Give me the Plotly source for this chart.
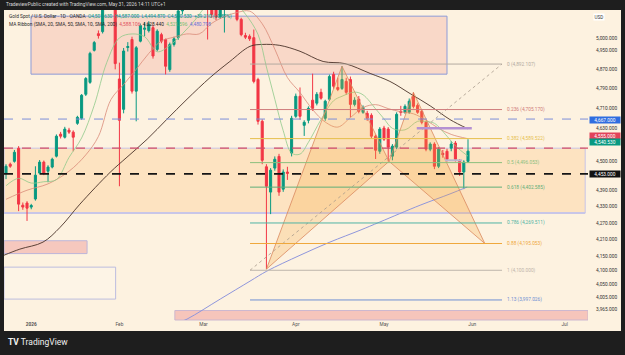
import math
import plotly.graph_objects as go

FONT = "Roboto"
W, H = 625, 355
PL, PR, PT, PB = 4, 588, 10, 320   # plot area in pixels

# ---------------- candles (bar index 0 = Dec 23 2025 ... 110 = May 29 2026)
opens = [4456, 4490, 4501, 4552, 4335, 4343, 4328, 4358, 4456, 4498,
         4463, 4479, 4521, 4607, 4595, 4623, 4615, 4650, 4670, 4767,
         4816, 4950, 5021, 5030, 5180, 5400, 5370, 4830, 4706, 4962,
         4996, 4780, 4989, 5040, 5034, 5047, 4954, 5017, 4996, 4869,
         4975, 5005, 5120, 5180, 5160, 5210, 5250, 5200, 5230, 5180,
         5150, 5095, 5140, 5150, 5170, 5140, 5083, 5013, 5010, 5004,
         4828, 4658, 4480, 4384, 4475, 4520, 4395, 4460, 4533, 4678,
         4759, 4642, 4662, 4743, 4731, 4775, 4670, 4747, 4849, 4795,
         4791, 4820, 4828, 4726, 4747, 4694, 4690, 4682, 4599, 4540,
         4631, 4627, 4521, 4556, 4698, 4694, 4694, 4759, 4722, 4698,
         4654, 4548, 4568, 4482, 4532, 4540, 4552, 4572, 4501, 4460,
         4501]
highs = [4490, 4496, 4545, 4560, 4345, 4350, 4340, 4482, 4506, 4504,
         4486, 4515, 4606, 4616, 4636, 4632, 4622, 4680, 4768, 4838,
         4944, 4990, 5035, 5200, 5420, 5595, 5450, 4898, 4960, 4985,
         5008, 4968, 5065, 5070, 5075, 5058, 5040, 5025, 5000, 4983,
         5008, 5135, 5200, 5230, 5240, 5280, 5270, 5260, 5250, 5200,
         5160, 5160, 5180, 5200, 5190, 5150, 5090, 5025, 5018, 5039,
         4835, 4666, 4490, 4475, 4520, 4530, 4470, 4480, 4680, 4770,
         4795, 4662, 4718, 4852, 4776, 4790, 4745, 4848, 4860, 4835,
         4883, 4835, 4840, 4755, 4760, 4722, 4700, 4690, 4605, 4635,
         4640, 4635, 4568, 4694, 4720, 4726, 4750, 4775, 4730, 4705,
         4660, 4575, 4575, 4556, 4545, 4550, 4580, 4580, 4510, 4505,
         4587]
lows = [4433, 4476, 4496, 4313, 4318, 4277, 4320, 4352, 4450, 4448,
        4421, 4474, 4516, 4590, 4590, 4608, 4540, 4644, 4664, 4760,
        4810, 4945, 5000, 5022, 5160, 5150, 4870, 4406, 4690, 4945,
        4770, 4658, 4984, 5010, 5026, 4915, 4946, 4980, 4849, 4860,
        4966, 4995, 5105, 5140, 5145, 5190, 5170, 5160, 4996, 5090,
        5080, 5085, 5026, 5130, 5125, 5075, 5010, 4998, 4990, 4812,
        4645, 4490, 4104, 4302, 4465, 4370, 4385, 4430, 4520, 4672,
        4665, 4600, 4650, 4700, 4722, 4745, 4660, 4740, 4790, 4780,
        4785, 4765, 4674, 4718, 4690, 4688, 4660, 4590, 4510, 4530,
        4580, 4501, 4505, 4548, 4680, 4688, 4688, 4710, 4688, 4646,
        4540, 4540, 4471, 4475, 4515, 4500, 4540, 4500, 4445, 4395,
        4495]
closes = [4482, 4482, 4536, 4339, 4328, 4324, 4334, 4448, 4498, 4456,
          4479, 4509, 4599, 4599, 4627, 4615, 4595, 4674, 4763, 4832,
          4937, 4983, 5013, 5180, 5400, 5370, 4894, 4662, 4947, 4966,
          4780, 4961, 5056, 5045, 5062, 4926, 5032, 4989, 4883, 4975,
          4999, 5120, 5180, 5160, 5210, 5250, 5200, 5230, 5160, 5105,
          5092, 5140, 5150, 5170, 5140, 5083, 5017, 5006, 4999, 4820,
          4658, 4505, 4406, 4467, 4509, 4384, 4460, 4455, 4670, 4759,
          4678, 4654, 4710, 4710, 4767, 4751, 4739, 4840, 4800, 4787,
          4828, 4775, 4726, 4743, 4698, 4714, 4670, 4599, 4544, 4627,
          4587, 4556, 4560, 4686, 4694, 4718, 4739, 4718, 4694, 4654,
          4548, 4568, 4482, 4548, 4527, 4509, 4568, 4509, 4460, 4498,
          4540.53]
bars = list(range(len(closes)))

# ---------------- axes
time_tick_pos = [6, 27, 47, 69, 90, 111, 133]
time_tick_text = ["<b>2026</b>", "Feb", "Mar", "Apr", "May", "Jun", "Jul"]
price_ticks = [5000, 4950, 4870, 4790, 4710, 4630, 4500, 4390, 4330, 4270,
               4210, 4150, 4100, 4050, 4005, 3965]
x_range = [-0.48, 138.57]
price_range = [3929, 5124]

# ---------------- moving averages (bar index, price)
sma10_x = [0, 3, 6, 9, 12, 15, 18, 21, 24, 27, 30, 33, 36, 39, 42, 45, 48, 51, 54,
           57, 60, 62, 64, 66, 68, 70, 72, 75, 78, 80, 83, 85, 88, 90, 92, 95, 98,
           100, 102, 105, 107, 110]
sma10_y = [4408, 4436, 4418, 4423, 4431, 4516, 4592, 4722, 4899, 5003, 5020, 5008,
           4944, 4971, 5021, 5080, 5148, 5173, 5164, 5106, 5018, 4880, 4747, 4621,
           4533, 4529, 4575, 4665, 4741, 4759, 4776, 4765, 4708, 4668, 4630, 4624,
           4658, 4657, 4650, 4599, 4561, 4521]
sma20_x = [0, 5, 10, 15, 19, 22, 25, 28, 31, 34, 37, 40, 43, 46, 49, 52, 55, 58, 61,
           64, 67, 70, 73, 76, 79, 82, 85, 88, 91, 94, 97, 100, 103, 106, 110]
sma20_y = [4357, 4391, 4415, 4463, 4526, 4598, 4746, 4807, 4870, 4937, 4990, 5006,
           5020, 5020, 5066, 5095, 5113, 5119, 5064, 4955, 4836, 4774, 4705, 4655,
           4635, 4673, 4713, 4725, 4709, 4696, 4688, 4663, 4630, 4606, 4589]
sma50_x = [-0.5, 3.3, 8.8, 12.9, 17.6, 24.8, 28.8, 33.6, 38.3, 43.1, 48.6, 53.3,
           58.1, 61, 65.2, 70, 75.5, 80.7, 86.7, 91.4, 96.2, 101, 105.7, 110]
sma50_y = [4153, 4175, 4200, 4254, 4339, 4459, 4517, 4587, 4666, 4747, 4836, 4903,
           4967, 4975, 4971, 4946, 4903, 4894, 4853, 4820, 4770, 4720, 4665, 4628]
sma200_x = [35, 39, 43.1, 51, 58.1, 62.1, 70, 77.1, 84.3, 89, 98.6, 105.7, 109.8]
sma200_y = [3850, 3906, 3932, 4000, 4062, 4097, 4153, 4200, 4243, 4273, 4335, 4377, 4403]

# ---------------- drawings
fib_hi, fib_lo = 4892.107, 4100.0
fib_levels = [0, 0.236, 0.382, 0.5, 0.618, 0.786, 0.88, 1, 1.13]
fib_colors = ["#b3aaa0", "#cf7b7b", "#e6bf4e", "#8cbf7e", "#5fae78", "#4fb3a4",
              "#efa83c", "#bdb5ab", "#6f8fd3"]
fib_x0, fib_x1 = 58.1, 118.1

harm_x = [62, 80, 91.2, 97, 114]          # X A B C D
harm_y = [4104, 4883, 4501, 4775, 4195]

hline_prices = [4667, 4552, 4453]
hline_colors = ["#7d8fd9", "#d24c66", "#151515"]
hline_widths = [1, 1.2, 1.7]

# zones: (bar0, bar1, price0, price1, fill, border)
zones = [
    (5.95, 105, 4850, 5097, "#f9d8c8", "#8d9bd8"),
    (-2, 137.9, 4306, 4552, "#fde3c1", "#c9c5e6"),
    (-2, 19.3, 4159, 4205, "#f6c8be", "#bdb5da"),
    (-2, 26.1, 4000, 4111, "#fdf4e6", "#bcbcdf"),
    (40.2, 145, 3900, 3961, "#f6c5bb", "#cdb7cf"),
]

CREAM = "#fdf2e0"
DARK = "#1e1e1e"

LLO, LHI = math.log10(price_range[0]), math.log10(price_range[1])


def lg(p):
    return math.log10(p)


def yfrac(p):
    return (math.log10(p) - LLO) / (LHI - LLO)


def clamp(v, a, b):
    return max(a, min(b, v))


def cx(b):
    return clamp(b, x_range[0], x_range[1])


def pxx(px):
    return (px - PL) / (PR - PL)


def pxy(py):
    return (PB - py) / (PB - PT)


fig = go.Figure()

# moving averages
fig.add_trace(go.Scatter(x=sma200_x, y=sma200_y, mode="lines", line=dict(color="#8f96dc", width=1, shape="spline"), hoverinfo="skip"))
fig.add_trace(go.Scatter(x=sma50_x, y=sma50_y, mode="lines", line=dict(color="#4a3228", width=0.9, shape="spline"), hoverinfo="skip"))
fig.add_trace(go.Scatter(x=sma20_x, y=sma20_y, mode="lines", line=dict(color="#d98a78", width=0.8, shape="spline"), hoverinfo="skip"))
fig.add_trace(go.Scatter(x=sma10_x, y=sma10_y, mode="lines", line=dict(color="#8fc98a", width=0.8, shape="spline"), hoverinfo="skip"))

fig.add_trace(go.Candlestick(
    x=bars, open=opens, high=highs, low=lows, close=closes,
    increasing=dict(line=dict(color="#089981", width=1), fillcolor="#089981"),
    decreasing=dict(line=dict(color="#f23645", width=1), fillcolor="#f23645"),
    whiskerwidth=0, hoverinfo="skip"))

# harmonic pattern triangles XAB and BCD
X, A, B, C, D = list(zip(harm_x, harm_y))
for tri in ([X, A, B, X], [B, C, D, B]):
    fig.add_trace(go.Scatter(x=[p[0] for p in tri], y=[p[1] for p in tri], mode="lines",
                             fill="toself", fillcolor="rgba(248,168,60,0.25)",
                             line=dict(color="#d98960", width=0.8), hoverinfo="skip"))

# fib trend line (dotted)
fig.add_trace(go.Scatter(x=[fib_x0, fib_x1], y=[fib_lo, fib_hi], mode="lines",
                         line=dict(color="#a89a8c", width=0.8, dash="dot"), hoverinfo="skip"))

# fib level lines
for r, c in zip(fib_levels, fib_colors):
    p = fib_hi - r * (fib_hi - fib_lo)
    fig.add_trace(go.Scatter(x=[fib_x0, fib_x1], y=[p, p], mode="lines",
                             line=dict(color=c, width=1), hoverinfo="skip"))

# small drawn bars
fig.add_trace(go.Scatter(x=[97.8, 110.9], y=[4630, 4630], mode="lines",
                         line=dict(color="#b591d2", width=2.5), hoverinfo="skip"))
fig.add_trace(go.Scatter(x=[104.5, 108.6], y=[4505, 4505], mode="lines",
                         line=dict(color="#bcb6cf", width=2), hoverinfo="skip"))

# horizontal dashed levels across the full width
for p, c, w in zip(hline_prices, hline_colors, hline_widths):
    fig.add_trace(go.Scatter(x=x_range, y=[p, p], mode="lines",
                             line=dict(color=c, width=w, dash="dash"), hoverinfo="skip"))

shapes = []
# cream panel covering plot, price axis and time axis
shapes.append(dict(type="rect", xref="paper", yref="paper", x0=0, x1=pxx(621), y0=pxy(331), y1=1,
                   fillcolor=CREAM, line=dict(width=0), layer="below"))
for b0, b1, p0, p1, fill, line in zones:
    shapes.append(dict(type="rect", xref="x", yref="paper", x0=cx(b0), x1=cx(b1),
                       y0=clamp(yfrac(p0), 0, 1), y1=clamp(yfrac(p1), 0, 1),
                       fillcolor=fill, line=dict(color=line, width=1), layer="below"))
# thick lavender line at the bottom of the orange zone
shapes.append(dict(type="line", xref="x", yref="paper", x0=x_range[0], x1=137.9,
                   y0=yfrac(4306), y1=yfrac(4306), line=dict(color="#c8c6e8", width=2), layer="below"))

ann = []
for r, c in zip(fib_levels, fib_colors):
    p = fib_hi - r * (fib_hi - fib_lo)
    ann.append(dict(x=fib_x1 + 0.7, y=lg(p), xref="x", yref="y", xanchor="left", yanchor="middle",
                    text=f"{r:g} ({p:,.3f})", showarrow=False,
                    font=dict(size=4.8, color=c, family=FONT)))


def axis_label(text, py, bg, fg="#ffffff"):
    ann.append(dict(xref="paper", yref="paper", x=pxx(589), y=pxy(py), xanchor="left", yanchor="middle",
                    text=text, showarrow=False, bgcolor=bg, width=30, height=6, borderpad=0,
                    align="center", font=dict(size=4.8, color=fg, family=FONT)))


axis_label("4,667.000", 119.5, "#2f6de0")
axis_label("4,555.000", 135.7, "#e2435a")
axis_label("4,540.530", 142.4, "#089981")
axis_label("4,453.000", 174, "#111111")
ann.append(dict(xref="paper", yref="paper", x=pxx(593), y=pxy(16.5), xanchor="left", yanchor="middle",
                text="USD", showarrow=False, bgcolor="#ffffff", borderpad=0.5,
                font=dict(size=4.6, color="#333333", family=FONT)))

# header / legends / footer
ann.append(dict(xref="paper", yref="paper", x=pxx(4), y=pxy(4.6), xanchor="left", yanchor="middle",
                text="TradeviewPublic created with TradingView.com, May 31, 2026 14:11 UTC+1",
                showarrow=False, font=dict(size=4.8, color="#d8d8d8", family=FONT)))
ann.append(dict(xref="paper", yref="paper", x=pxx(6.5), y=pxy(16.8), xanchor="left", yanchor="middle",
                text=("Gold Spot / U.S. Dollar · 1D · OANDA  "
                      "<span style='color:#089981'>O4,501.630  H4,587.000  L4,494.870  C4,540.530  +39.210 (+0.87%)</span>"),
                showarrow=False, font=dict(size=4.8, color="#2a2a2a", family=FONT)))
ann.append(dict(xref="paper", yref="paper", x=pxx(6.5), y=pxy(24), xanchor="left", yanchor="middle",
                text=("MA Ribbon (SMA, 20, SMA, 50, SMA, 10, SMA, 200)  "
                      "<span style='color:#e0525f'>4,588.106</span>  "
                      "<span style='color:#222222'>4,628.440</span>  "
                      "<span style='color:#72bf6f'>4,521.596</span>  "
                      "<span style='color:#6a70d8'>4,480.798</span>"),
                showarrow=False, font=dict(size=4.8, color="#2a2a2a", family=FONT)))
ann.append(dict(xref="paper", yref="paper", x=pxx(6), y=pxy(342), xanchor="left", yanchor="middle",
                text="<b>TV</b> TradingView", showarrow=False,
                font=dict(size=8.5, color="#f0f0f0", family=FONT)))

fig.update_layout(
    width=W, height=H, autosize=False,
    margin=dict(l=PL, r=W - PR, t=PT, b=H - PB, pad=0),
    paper_bgcolor=DARK, plot_bgcolor=CREAM,
    showlegend=False, shapes=shapes, annotations=ann,
    xaxis=dict(range=x_range, showgrid=False, zeroline=False,
               rangeslider=dict(visible=False), tickvals=time_tick_pos, ticktext=time_tick_text,
               ticks="", tickfont=dict(size=4.8, color="#555555", family=FONT), showline=False,
               fixedrange=True),
    yaxis=dict(type="log", range=[LLO, LHI], side="right", showgrid=False,
               zeroline=False, tickvals=price_ticks,
               ticktext=[f"{v:,.3f}" for v in price_ticks], ticks="", ticklabelstandoff=7,
               tickfont=dict(size=4.8, color="#333333", family=FONT), showline=False),
)

fig.write_html("out.html")
